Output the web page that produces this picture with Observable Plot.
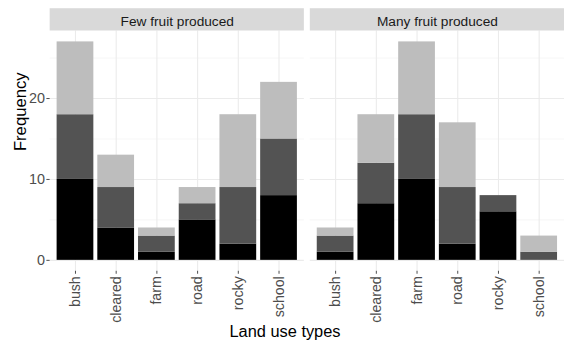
<!DOCTYPE html>
<html>
<head>
<meta charset="utf-8">
<script src="https://cdn.jsdelivr.net/npm/d3@7"></script>
<script src="https://cdn.jsdelivr.net/npm/@observablehq/plot@0.6"></script>
<style>
  html, body { margin: 0; padding: 0; background: #fff; overflow: hidden; }
  #chart { width: 564px; height: 345px; overflow: hidden; }
</style>
</head>
<body>
<div id="chart"></div>
<script>
const facets = ["Few fruit produced", "Many fruit produced"];
const landUse = ["bush", "cleared", "farm", "road", "rocky", "school"];
const levels = ["level 1", "level 2", "level 3"];
const levelColors = ["#000000", "#535353", "#bdbdbd"];

const fewLevel1 = [10, 4, 1, 5, 2, 8];
const fewLevel2 = [8, 5, 2, 2, 7, 7];
const fewLevel3 = [9, 4, 1, 2, 9, 7];
const manyLevel1 = [1, 7, 10, 2, 6, 0];
const manyLevel2 = [2, 5, 8, 7, 2, 1];
const manyLevel3 = [1, 6, 9, 8, 0, 2];

const yTicks = [0, 10, 20];
const yMinor = [5, 15, 25];
const yDomain = [-1.35, 28.35];
const stripTop = 31.1;

const series = [
  [facets[0], [fewLevel1, fewLevel2, fewLevel3]],
  [facets[1], [manyLevel1, manyLevel2, manyLevel3]]
];
const rows = [];
for (const [facet, lv] of series) {
  lv.forEach((vals, li) => {
    vals.forEach((v, i) => rows.push({facet, land: landUse[i], level: levels[li], value: v}));
  });
}

const font = "'Liberation Sans', Arial, sans-serif";

const chart = Plot.plot({
  width: 568,
  height: 345,
  marginLeft: 49,
  marginRight: 0,
  marginTop: 30.7,
  marginBottom: 72.3,
  style: {fontFamily: font, background: "#fff", overflow: "visible"},
  fx: {domain: facets, paddingInner: 0.023, paddingOuter: 0, axis: null},
  x: {domain: landUse, paddingInner: 0.1, paddingOuter: 0.15, axis: null},
  y: {domain: yDomain, axis: null},
  color: {domain: levels, range: levelColors, legend: false},
  marks: [
    Plot.ruleY(yMinor, {stroke: "#f2f2f2", strokeWidth: 0.7}),
    Plot.ruleY(yTicks, {stroke: "#ebebeb", strokeWidth: 1.1}),
    Plot.ruleX(landUse, {x: d => d, stroke: "#ebebeb", strokeWidth: 1.1}),
    Plot.barY(rows, {fx: "facet", x: "land", y: "value", fill: "level"}),
    Plot.rect(facets, {fx: d => d, y1: yDomain[1], y2: stripTop, fill: "#d9d9d9"}),
    Plot.text(facets, {fx: d => d, text: d => d, y: yDomain[1], dy: -9.5, fontSize: 13.8, fill: "#1a1a1a"}),
    Plot.axisY({ticks: yTicks, tickSize: 3.3, tickPadding: 2, fontSize: 14.5, color: "#4d4d4d", label: null}),
    Plot.axisX({tickRotate: -90, tickSize: 3, tickPadding: 2, fontSize: 14.3, color: "#4d4d4d", label: null}),
    Plot.text(["Frequency"], {fx: () => facets[0], text: d => d, frameAnchor: "left", dx: -30, rotate: -90, fontSize: 16.8, fill: "#000"}),
    Plot.text(["Land use types"], {fx: () => facets[0], text: d => d, frameAnchor: "bottom-right", dx: -19.5, dy: 66, textAnchor: "middle", fontSize: 16.5, fill: "#000"})
  ]
});
document.getElementById("chart").appendChild(chart);
</script>
</body>
</html>
